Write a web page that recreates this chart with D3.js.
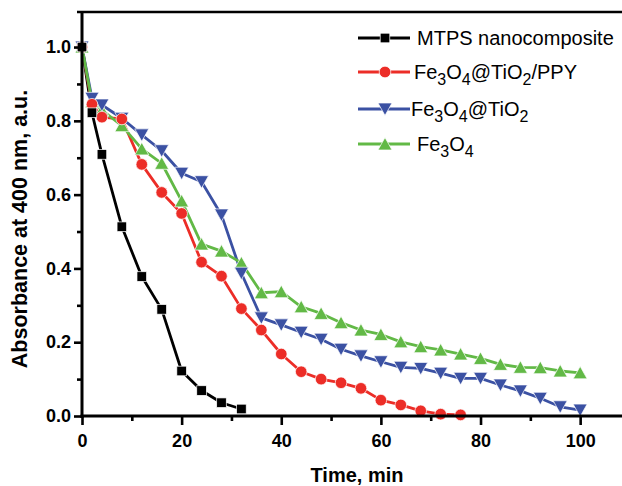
<!DOCTYPE html>
<html><head><meta charset="utf-8">
<script src="https://cdn.jsdelivr.net/npm/d3@7"></script>
<style>body{margin:0;background:#fff}svg{display:block}text{font-family:Arial,"Liberation Sans",sans-serif}</style>
</head><body>
<svg id="chart" width="622" height="486"></svg>
<script>
const timeMTPS = [0,2,4,8,12,16,20,24,28,32];
const valMTPS = [1.0,0.822,0.709,0.513,0.378,0.289,0.122,0.069,0.036,0.019];
const timePPY = [0,2,4,8,12,16,20,24,28,32,36,40,44,48,52,56,60,64,68,72,76];
const valPPY = [1.0,0.845,0.81,0.805,0.682,0.606,0.549,0.417,0.379,0.291,0.233,0.168,0.12,0.1,0.09,0.075,0.043,0.03,0.014,0.005,0.003];
const timeLong = [0,2,4,8,12,16,20,24,28,32,36,40,44,48,52,56,60,64,68,72,76,80,84,88,92,96,100];
const valTiO2 = [1.0,0.861,0.843,0.807,0.762,0.719,0.658,0.635,0.545,0.387,0.266,0.247,0.227,0.208,0.181,0.163,0.147,0.132,0.129,0.116,0.102,0.102,0.084,0.068,0.048,0.025,0.016];
const valFe3O4 = [1.0,0.852,0.829,0.787,0.724,0.685,0.583,0.466,0.447,0.415,0.334,0.337,0.296,0.278,0.253,0.233,0.221,0.201,0.188,0.179,0.168,0.156,0.14,0.132,0.131,0.122,0.117];
const xTicks = [0,20,40,60,80,100];
const xMinor = [10,30,50,70,90];
const yTicks = [0,0.2,0.4,0.6,0.8,1.0];
const yMinor = [0.1,0.3,0.5,0.7,0.9];

const series = [
  {name:"MTPS", t:timeMTPS, v:valMTPS, color:"#000000", shape:"square"},
  {name:"PPY", t:timePPY, v:valPPY, color:"#ec2d27", shape:"circle"},
  {name:"TiO2", t:timeLong, v:valTiO2, color:"#3b51a3", shape:"down"},
  {name:"Fe3O4", t:timeLong, v:valFe3O4, color:"#62b946", shape:"up"}
];

const svg = d3.select("#chart");
const x = d3.scaleLinear().domain([0,108.4]).range([82,622]);
const y = d3.scaleLinear().domain([0,1.095]).range([416,12]);

function marker(g, shape, cx, cy, color){
  let el;
  if(shape==="square"){
    el = g.append("rect").attr("x",cx-4.8).attr("y",cy-4.8).attr("width",9.6).attr("height",9.6);
  } else if(shape==="circle"){
    el = g.append("circle").attr("cx",cx).attr("cy",cy).attr("r",5.8);
  } else if(shape==="down"){
    el = g.append("path").attr("d",`M${cx-7},${cy-6}L${cx+7},${cy-6}L${cx},${cy+6.5}Z`);
  } else {
    el = g.append("path").attr("d",`M${cx-7},${cy+6}L${cx+7},${cy+6}L${cx},${cy-6.5}Z`);
  }
  el.attr("fill",color).attr("stroke","#fff").attr("stroke-width",0.7);
}

const line = d3.line().x(d=>x(d[0])).y(d=>y(d[1]));
series.forEach(s=>{
  const pts = s.t.map((t,i)=>[t,s.v[i]]);
  svg.append("path").datum(pts).attr("d",line).attr("fill","none")
    .attr("stroke",s.color).attr("stroke-width",2.8).attr("stroke-linejoin","round");
});
series.slice().reverse().forEach(s=>{
  const g = svg.append("g");
  s.t.forEach((t,i)=>marker(g,s.shape,x(t),y(s.v[i]),s.color));
});

// axes
const xAxis = svg.append("g").attr("transform","translate(0,416)")
  .call(d3.axisBottom(x).tickValues(xTicks).tickSize(9).tickFormat(d3.format("d")));
svg.append("g").attr("transform","translate(0,416)")
  .call(d3.axisBottom(x).tickValues(xMinor).tickSize(5).tickFormat(""))
  .call(g=>g.select(".domain").remove());
const yAxis = svg.append("g").attr("transform","translate(82,0)")
  .call(d3.axisLeft(y).tickValues(yTicks).tickSize(8).tickFormat(d3.format(".1f")));
svg.append("g").attr("transform","translate(82,0)")
  .call(d3.axisLeft(y).tickValues(yMinor).tickSize(5).tickFormat(""))
  .call(g=>g.select(".domain").remove());
svg.selectAll(".domain").attr("stroke-width",3).attr("stroke","#000");
svg.selectAll(".tick line").attr("stroke-width",2.6).attr("stroke","#000");
xAxis.selectAll(".domain").attr("d","M80.5,0H622");
yAxis.selectAll(".domain").attr("d","M0,418V11");
svg.append("line").attr("x1",77).attr("x2",622).attr("y1",12).attr("y2",12)
  .attr("stroke","#000").attr("stroke-width",2.6);
xAxis.selectAll("text").attr("font-size",18).attr("font-weight","bold").attr("fill","#000").attr("dy","1.05em");
yAxis.selectAll("text").attr("font-size",18).attr("font-weight","bold").attr("fill","#000").attr("x",-11);
svg.selectAll("g").attr("font-family",null);

svg.append("text").attr("x",357).attr("y",482).attr("text-anchor","middle")
  .attr("font-size",20).attr("font-weight","bold").text("Time, min");
svg.append("text").attr("transform","translate(27,229) rotate(-90)").attr("text-anchor","middle")
  .attr("font-size",21.5).attr("font-weight","bold").text("Absorbance at 400 nm, a.u.");

// legend
const legend = [
  {s:series[0], y:38, tx:417, parts:[["MTPS nanocomposite",0]]},
  {s:series[1], y:72, tx:414, parts:[["Fe",0],["3",1],["O",0],["4",1],["@TiO",0],["2",1],["/PPY",0]]},
  {s:series[2], y:109, tx:411, parts:[["Fe",0],["3",1],["O",0],["4",1],["@TiO",0],["2",1]]},
  {s:series[3], y:144, tx:417, parts:[["Fe",0],["3",1],["O",0],["4",1]]}
];
legend.forEach(L=>{
  const g = svg.append("g");
  g.append("line").attr("x1",358).attr("x2",410).attr("y1",L.y).attr("y2",L.y)
    .attr("stroke",L.s.color).attr("stroke-width",2.8);
  marker(g,L.s.shape,385,L.y,L.s.color);
  const t = g.append("text").attr("x",L.tx).attr("y",L.y+7).attr("font-size",20).attr("fill","#000");
  let sub=false;
  L.parts.forEach(([txt,isSub])=>{
    const ts = t.append("tspan").text(txt);
    if(isSub && !sub){ts.attr("dy",6).attr("font-size",16);sub=true;}
    else if(isSub && sub){ts.attr("font-size",16);}
    else if(!isSub && sub){ts.attr("dy",-6);sub=false;}
  });
});
</script>
</body></html>
